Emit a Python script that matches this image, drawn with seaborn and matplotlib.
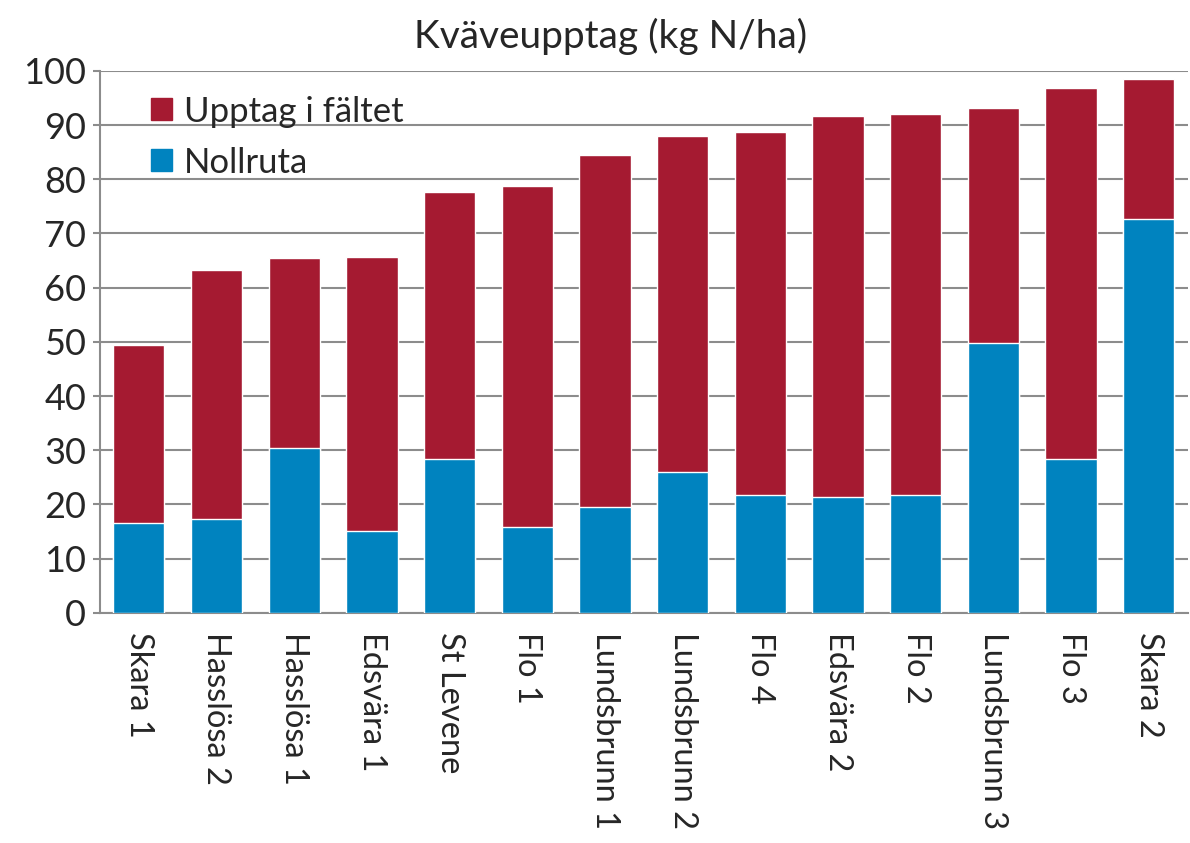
import pandas as pd
import matplotlib.pyplot as plt
import seaborn as sns
from matplotlib.patches import Patch

# data
platser = ['Skara 1', 'Hasslösa 2', 'Hasslösa 1', 'Edsvära 1', 'St Levene', 'Flo 1',
           'Lundsbrunn 1', 'Lundsbrunn 2', 'Flo 4', 'Edsvära 2', 'Flo 2',
           'Lundsbrunn 3', 'Flo 3', 'Skara 2']
nollruta = [16.6, 17.3, 30.5, 15.1, 28.4, 15.9, 19.6, 26.0, 21.7, 21.4, 21.7, 49.8, 28.4, 72.6]
totalt = [49.4, 63.3, 65.4, 65.6, 77.7, 78.8, 84.4, 88.0, 88.7, 91.7, 92.0, 93.1, 96.8, 98.5]

df = pd.DataFrame({'Plats': platser, 'Nollruta': nollruta, 'Totalt': totalt})
df['Upptag i fältet'] = df['Totalt'] - df['Nollruta']

red = '#A51A31'
blue = '#0083BF'

sns.set_style('white')
plt.rcParams['font.family'] = ['Lato', 'DejaVu Sans']

fig = plt.figure(figsize=(11.9, 8.43), dpi=100)
ax = fig.add_axes([0.084, 0.273, 0.914, 0.643])

# stacked: draw total in red, then nollruta in blue over it
sns.barplot(data=df, x='Plats', y='Totalt', color=red, width=0.66, saturation=1, ax=ax, zorder=2)
sns.barplot(data=df, x='Plats', y='Nollruta', color=blue, width=0.66, saturation=1, ax=ax, zorder=3)

ax.set_ylim(0, 100)
ax.set_xlim(-0.5, len(platser) - 0.5)
ax.set_yticks(range(0, 101, 10))
ax.set_xlabel('')
ax.set_ylabel('')
ax.grid(axis='y', color='#8c8c8c', linewidth=1.5, zorder=0)
ax.set_axisbelow(True)
for s in ['top', 'right']:
    ax.spines[s].set_visible(False)
for s in ['left', 'bottom']:
    ax.spines[s].set_color('#8c8c8c')
    ax.spines[s].set_linewidth(1.5)

ax.tick_params(axis='y', labelsize=26, length=5, color='#8c8c8c', width=1.5, left=True, pad=5)
ax.tick_params(axis='x', labelsize=23.5, length=0, pad=14)
plt.setp(ax.get_xticklabels(), rotation=-90, va='top', ha='center')

handles = [Patch(color=red, label='Upptag i fältet'), Patch(color=blue, label='Nollruta')]
ax.legend(handles=handles, loc='upper left', bbox_to_anchor=(0.018, 1.012), frameon=False,
          fontsize=25, handlelength=0.6, handleheight=0.6, handletextpad=0.35, labelspacing=0.55)

fig.text(0.513, 0.957, 'Kväveupptag (kg N/ha)', ha='center', va='center', fontsize=28)

fig.savefig('out.png', dpi=100)
